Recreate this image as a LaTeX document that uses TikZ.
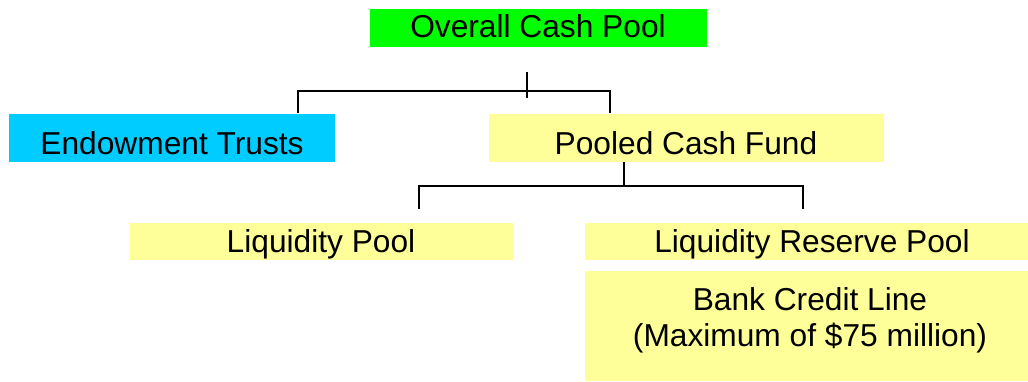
\documentclass[tikz,border=0pt]{standalone}
\usepackage{fontspec}
\setmainfont{Liberation Sans}
\definecolor{poolgreen}{HTML}{00FF00}
\definecolor{trustcyan}{HTML}{00CCFF}
\definecolor{fundyellow}{HTML}{FFFF99}
\begin{document}
\begin{tikzpicture}[x=1pt,y=-1pt,
  box/.style={inner sep=0pt,outer sep=0pt,draw=none},
  lbl/.style={inner sep=0pt,anchor=base,font=\fontsize{31.7}{38}\selectfont},
  conn/.style={draw=black,line width=2pt,line cap=rect}]
\useasboundingbox (0,0) rectangle (1028,381);
% boxes
\fill[poolgreen]  (370,9)   rectangle (707,47);
\fill[trustcyan]  (9,114)   rectangle (335,162);
\fill[fundyellow] (489,114) rectangle (884,162);
\fill[fundyellow] (130,223) rectangle (513,260);
\fill[fundyellow] (585,223) rectangle (1039,260);
\fill[fundyellow] (585,271) rectangle (1039,381);
% texts
\node[lbl] (ocp) at (538,37)  {Overall Cash Pool};
\node[lbl] (et)  at (172,154) {Endowment Trusts};
\node[lbl] (pcf) at (686,154) {Pooled Cash Fund};
\node[lbl] (lp)  at (321,252) {Liquidity Pool};
\node[lbl] (lrp) at (812,252) {Liquidity Reserve Pool};
\node[lbl] (bcl) at (810,310) {Bank Credit Line};
\node[lbl] (bcm) at (810,346) {(Maximum of \$75 million)};
% first split
\coordinate (a0) at (527,73);
\coordinate (a1) at (527,97);
\coordinate (aL) at (298,91);
\coordinate (aR) at (610,91);
\coordinate (aLb) at (298,113);
\coordinate (aRb) at (610,113);
\draw[conn] (a0) -- (a1);
\draw[conn,line cap=butt] (aLb) -- (aL) -- (aR) -- (aRb);
% second split
\coordinate (b0) at (624,162);
\coordinate (b1) at (624,186);
\coordinate (bL) at (419,186);
\coordinate (bR) at (803,186);
\coordinate (bLb) at (419,209);
\coordinate (bRb) at (803,209);
\draw[conn,line cap=butt] (b0) -- (b1);
\draw[conn,line cap=butt] (bLb) -- (bL) -- (bR) -- (bRb);
\end{tikzpicture}
\end{document}
